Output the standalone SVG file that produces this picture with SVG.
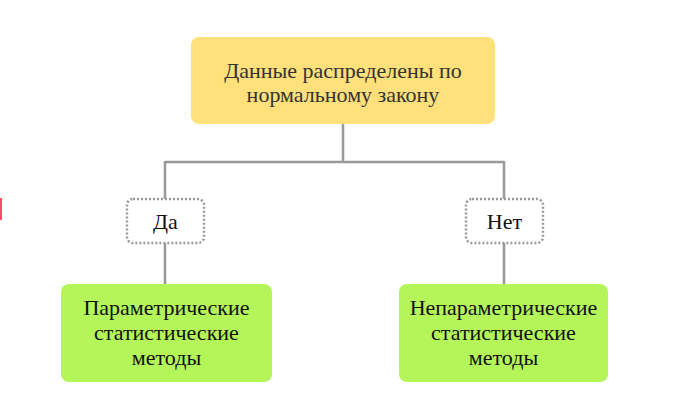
<svg xmlns="http://www.w3.org/2000/svg" width="692" height="402" viewBox="0 0 692 402">
<style>
.t{font-family:"Liberation Serif","Times New Roman",serif;font-size:22px;text-anchor:middle;fill:#111}
.tt{fill:#333}
.yel{fill:#FFE07A}
.grn{fill:#B4F55A}
.lbl{fill:#fff;stroke:#999;stroke-width:2.5;stroke-dasharray:2 2}
.c{fill:none;stroke:#999;stroke-width:2.5}
</style>
<rect width="692" height="402" fill="#fff"/>
<rect x="0" y="198" width="2" height="22" fill="#FF4D6A"/>
<g id="connectors">
<path class="c" d="M343 124V162M165 162H504M165 161V199M504 161V199M165 243V284M504 243V284"/>
</g>
<g id="root">
<rect class="yel" x="191" y="37" width="304" height="87" rx="8"/>
<text class="t tt" x="343" y="78">Данные распределены по</text>
<text class="t tt" x="343" y="102">нормальному закону</text>
</g>
<g id="yes">
<rect class="lbl" x="127" y="199" width="77" height="44" rx="6"/>
<text class="t" x="165.5" y="229">Да</text>
</g>
<g id="no">
<rect class="lbl" x="466" y="199" width="77" height="44" rx="6"/>
<text class="t" x="504.5" y="229">Нет</text>
</g>
<g id="param">
<rect class="grn" x="61" y="284" width="211" height="98" rx="8"/>
<text class="t" x="166.5" y="315">Параметрические</text>
<text class="t" x="166.5" y="340">статистические</text>
<text class="t" x="166.5" y="365">методы</text>
</g>
<g id="nonparam">
<rect class="grn" x="399" y="284" width="209" height="98" rx="8"/>
<text class="t" x="503.5" y="315">Непараметрические</text>
<text class="t" x="503.5" y="340">статистические</text>
<text class="t" x="503.5" y="365">методы</text>
</g>
</svg>
